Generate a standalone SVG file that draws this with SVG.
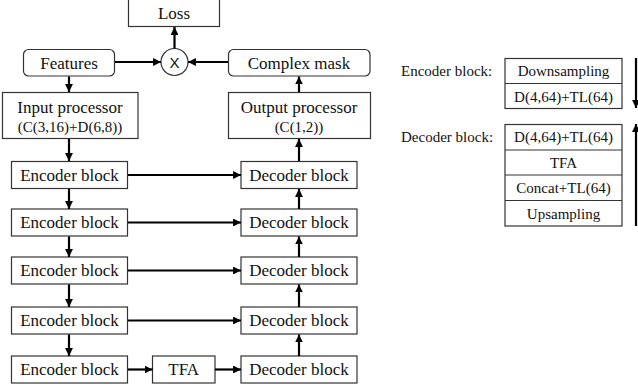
<svg xmlns="http://www.w3.org/2000/svg" width="638" height="392" viewBox="0 0 638 392">
<style>
  .box { fill: #fff; stroke: #333; stroke-width: 1.2; }
  text { font-family: 'Liberation Serif', 'Times New Roman', serif; fill: #111; }
  .t { font-size: 17px; text-anchor: middle; }
  .s { font-size: 15px; text-anchor: middle; }
  .lbl { font-size: 15px; }
  .x { font-family: 'Liberation Sans', Arial, sans-serif; font-size: 15px; text-anchor: middle; }
  .c { stroke: #000; stroke-width: 2.2; fill: none; marker-end: url(#ah); }
</style>
<defs>
  <marker id="ah" viewBox="0 0 10 10" refX="10" refY="5" markerWidth="3.6" markerHeight="3.6" orient="auto" markerUnits="strokeWidth">
    <path d="M0,0 L10,5 L0,10 z" fill="#000"/>
  </marker>
</defs>
<rect width="638" height="392" fill="#fff"/>

<g id="loss"><rect class="box" x="128.5" y="-1" width="91" height="27.5"/><text class="t" x="174" y="19">Loss</text></g>
<g id="mul"><circle class="box" cx="174.5" cy="62" r="13.5"/><text class="x" x="174.5" y="67.5">X</text></g>
<g id="features"><rect class="box" x="23.5" y="49.5" width="91" height="26.5" rx="5"/><text class="t" x="69" y="68.5">Features</text></g>
<g id="mask"><rect class="box" x="228.5" y="49.5" width="141.5" height="26.5" rx="5"/><text class="t" x="299" y="68.5">Complex mask</text></g>
<g id="inproc"><rect class="box" x="2.5" y="92.5" width="135.5" height="46"/><text class="t" x="70" y="113">Input processor</text><text class="s" x="70" y="132">(C(3,16)+D(6,8))</text></g>
<g id="outproc"><rect class="box" x="228.5" y="92.5" width="142" height="46"/><text class="t" x="299" y="113">Output processor</text><text class="s" x="299" y="132">(C(1,2))</text></g>

<g id="enc1"><rect class="box" x="11.5" y="161.5" width="116" height="27"/><text class="t" x="69.5" y="180.5">Encoder block</text></g>
<g id="enc2"><rect class="box" x="11.5" y="209" width="116" height="27"/><text class="t" x="69.5" y="228">Encoder block</text></g>
<g id="enc3"><rect class="box" x="11.5" y="257" width="116" height="27"/><text class="t" x="69.5" y="276">Encoder block</text></g>
<g id="enc4"><rect class="box" x="11.5" y="307" width="116" height="27"/><text class="t" x="69.5" y="326">Encoder block</text></g>
<g id="enc5"><rect class="box" x="11.5" y="356" width="116" height="27"/><text class="t" x="69.5" y="375">Encoder block</text></g>
<g id="tfa"><rect class="box" x="152.5" y="356" width="62.5" height="27"/><text class="t" x="183.7" y="375">TFA</text></g>
<g id="dec1"><rect class="box" x="241" y="161.5" width="116" height="27"/><text class="t" x="299" y="180.5">Decoder block</text></g>
<g id="dec2"><rect class="box" x="241" y="209" width="116" height="27"/><text class="t" x="299" y="228">Decoder block</text></g>
<g id="dec3"><rect class="box" x="241" y="257" width="116" height="27"/><text class="t" x="299" y="276">Decoder block</text></g>
<g id="dec4"><rect class="box" x="241" y="307" width="116" height="27"/><text class="t" x="299" y="326">Decoder block</text></g>
<g id="dec5"><rect class="box" x="241" y="356" width="116" height="27"/><text class="t" x="299" y="375">Decoder block</text></g>

<g id="legend-enc">
  <text class="lbl" x="401" y="76">Encoder block:</text>
  <rect class="box" x="505" y="58.5" width="117" height="50"/>
  <line x1="505" y1="83.5" x2="622" y2="83.5" stroke="#333" stroke-width="1.2"/>
  <text class="s" x="563.5" y="76">Downsampling</text>
  <text class="s" x="563.5" y="101.5">D(4,64)+TL(64)</text>
</g>
<g id="legend-dec">
  <text class="lbl" x="401" y="142">Decoder block:</text>
  <rect class="box" x="505" y="124.5" width="117" height="101.5"/>
  <line x1="505" y1="150" x2="622" y2="150" stroke="#333" stroke-width="1.2"/>
  <line x1="505" y1="175" x2="622" y2="175" stroke="#333" stroke-width="1.2"/>
  <line x1="505" y1="200.5" x2="622" y2="200.5" stroke="#333" stroke-width="1.2"/>
  <text class="s" x="563.5" y="142">D(4,64)+TL(64)</text>
  <text class="s" x="563.5" y="167.5">TFA</text>
  <text class="s" x="563.5" y="193">Concat+TL(64)</text>
  <text class="s" x="563.5" y="218.5">Upsampling</text>
</g>

<g id="connectors">
  <line class="c" x1="69" y1="76.5" x2="69" y2="92"/>
  <line class="c" x1="69" y1="139" x2="69" y2="161"/>
  <line class="c" x1="69" y1="189" x2="69" y2="209"/>
  <line class="c" x1="69" y1="236.5" x2="69" y2="257"/>
  <line class="c" x1="69" y1="284.5" x2="69" y2="307"/>
  <line class="c" x1="69" y1="334.5" x2="69" y2="356"/>
  <line class="c" x1="128" y1="175" x2="241" y2="175"/>
  <line class="c" x1="128" y1="222.5" x2="241" y2="222.5"/>
  <line class="c" x1="128" y1="270.5" x2="241" y2="270.5"/>
  <line class="c" x1="128" y1="320.5" x2="241" y2="320.5"/>
  <line class="c" x1="128" y1="369.5" x2="152.5" y2="369.5"/>
  <line class="c" x1="215" y1="369.5" x2="241" y2="369.5"/>
  <line class="c" x1="299" y1="356" x2="299" y2="334.5"/>
  <line class="c" x1="299" y1="307" x2="299" y2="284.5"/>
  <line class="c" x1="299" y1="257" x2="299" y2="236.5"/>
  <line class="c" x1="299" y1="209" x2="299" y2="189"/>
  <line class="c" x1="299" y1="161" x2="299" y2="139"/>
  <line class="c" x1="299" y1="92" x2="299" y2="76.5"/>
  <line class="c" x1="115" y1="62" x2="161" y2="62"/>
  <line class="c" x1="228" y1="62" x2="188" y2="62"/>
  <line class="c" x1="174.5" y1="48.5" x2="174.5" y2="27"/>
  <line class="c" x1="636" y1="58" x2="636" y2="108"/>
  <line class="c" x1="636" y1="226" x2="636" y2="124"/>
</g>
</svg>
